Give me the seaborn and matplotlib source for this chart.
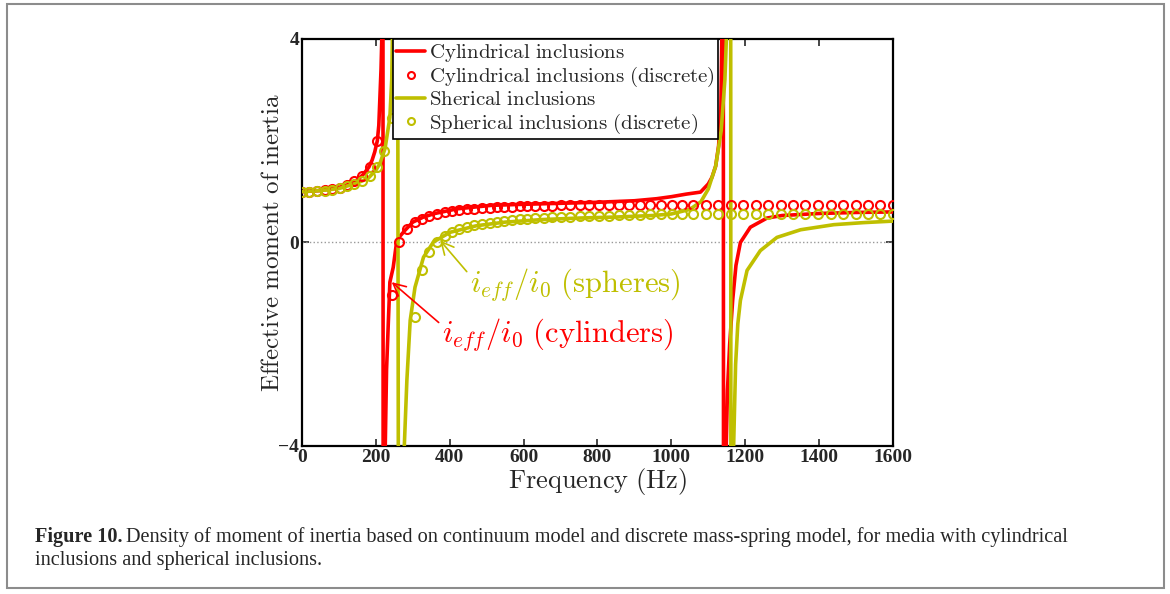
import numpy as np
import pandas as pd
import matplotlib
matplotlib.use("Agg")
import matplotlib.pyplot as plt
from matplotlib.lines import Line2D
from matplotlib.patches import Rectangle
import seaborn as sns

# continuous model, cylindrical inclusions (points straddling the two resonances included)
f_cyl = [0, 50, 100, 130, 148, 165, 181, 190, 197, 204, 208, 211, 214, 216, 217.5,
         221.5, 225, 229, 234, 238, 247, 256, 265, 279, 300, 329, 360, 419, 514, 600, 700,
         800, 900, 960, 1000, 1040, 1079, 1100, 1110, 1120, 1128, 1134, 1137, 1139,
         1143, 1148, 1152, 1158, 1166, 1175, 1187, 1214, 1259, 1300, 1400, 1500, 1600]
i_cyl = [1.0, 1.02, 1.08, 1.15, 1.22, 1.33, 1.48, 1.62, 1.78, 2.0, 2.3, 2.85, 3.4, 3.97, 40,
         -40, -4.2, -2.5, -1.53, -0.78, -0.49, 0.0, 0.12, 0.24, 0.40, 0.50, 0.57, 0.66, 0.73, 0.75, 0.77,
         0.79, 0.82, 0.86, 0.9, 0.95, 0.99, 1.15, 1.28, 1.5, 1.9, 2.6, 4.2, 40,
         -40, -4.2, -2.9, -2.0, -1.14, -0.45, 0.0, 0.3, 0.48, 0.53, 0.57, 0.59, 0.6]

# continuous model, spherical inclusions
f_sph = [0, 50, 100, 150, 179, 200, 211, 225, 238, 243, 246, 252,
         268, 276, 284, 293, 306, 329, 356, 401, 473, 550, 650, 750, 850, 950, 1000,
         1050, 1080, 1100, 1120, 1135, 1145, 1150, 1155, 1159,
         1163, 1168, 1174, 1180, 1187, 1205, 1241, 1286, 1350, 1440, 1520, 1600]
i_sph = [1.0, 1.02, 1.06, 1.17, 1.26, 1.42, 1.55, 1.85, 2.46, 3.2, 4.6, 40,
         -40, -4.2, -2.71, -1.53, -0.88, -0.29, 0.01, 0.20, 0.33, 0.40, 0.45, 0.48, 0.5, 0.53, 0.56,
         0.65, 0.8, 1.05, 1.5, 2.2, 3.2, 4.2, 5.5, 40,
         -40, -4.2, -2.4, -1.6, -1.14, -0.55, -0.16, 0.10, 0.25, 0.35, 0.39, 0.42]

# discrete mass-spring model (cylinders: the point at 223 Hz is off scale)
f_cyl_d = [0, 20, 41, 61, 81, 102, 122, 142, 162, 183, 203, 244, 264, 284, 305, 325, 345, 365,
           386, 406, 426, 447, 467, 487, 508, 528, 548, 568, 589, 609, 631, 654, 678, 702, 727,
           752, 778, 804, 831, 858, 886, 914, 943, 972, 1001, 1030, 1059, 1093, 1127, 1161, 1194,
           1228, 1262, 1296, 1330, 1363, 1397, 1431, 1465, 1499, 1532, 1566, 1600]
i_cyl_d = [1.0, 1.0, 1.01, 1.03, 1.05, 1.08, 1.13, 1.2, 1.3, 1.48, 2.0, -1.04, 0.0, 0.26, 0.40,
           0.47, 0.52, 0.56, 0.59, 0.61, 0.63, 0.65, 0.66, 0.67, 0.68, 0.69, 0.7, 0.7, 0.71, 0.71,
           0.72, 0.72, 0.72, 0.73, 0.73, 0.73, 0.73, 0.73, 0.74, 0.74, 0.74, 0.74, 0.74, 0.74,
           0.74, 0.74, 0.74, 0.74, 0.74, 0.74, 0.74, 0.74, 0.74, 0.74, 0.74, 0.74, 0.74, 0.74,
           0.74, 0.74, 0.74, 0.74, 0.74]
# spheres: the points at 264 and 284 Hz are off scale
f_sph_d = [0, 20, 41, 61, 81, 102, 122, 142, 162, 183, 203, 223, 244, 305, 325, 345, 365,
           386, 406, 426, 447, 467, 487, 508, 528, 548, 568, 589, 609, 631, 654, 678, 702, 727,
           752, 778, 804, 831, 858, 886, 914, 943, 972, 1001, 1030, 1059, 1093, 1127, 1161, 1194,
           1228, 1262, 1296, 1330, 1363, 1397, 1431, 1465, 1499, 1532, 1566, 1600]
i_sph_d = [1.0, 1.0, 1.01, 1.02, 1.04, 1.07, 1.11, 1.15, 1.2, 1.3, 1.48, 1.79, 2.45, -1.47,
           -0.55, -0.19, 0.0, 0.12, 0.2, 0.26, 0.3, 0.34, 0.37, 0.39, 0.41, 0.43, 0.44, 0.46,
           0.47, 0.48, 0.49, 0.5, 0.5, 0.51, 0.52, 0.52, 0.53, 0.53, 0.54, 0.54, 0.54, 0.55,
           0.55, 0.55, 0.55, 0.56, 0.56, 0.56, 0.56, 0.56, 0.56, 0.56, 0.56, 0.56, 0.56, 0.56,
           0.56, 0.56, 0.56, 0.56, 0.56, 0.56]

xticks = [0, 200, 400, 600, 800, 1000, 1200, 1400, 1600]
yticks = [-4, 0, 4]

RED = "#ff0000"
YEL = "#bfbf00"

sns.set_style("ticks")
plt.rcParams["mathtext.fontset"] = "cm"
plt.rcParams["font.family"] = ["Liberation Serif", "DejaVu Serif"]

fig = plt.figure(figsize=(11.7, 5.94), dpi=100)
ax = fig.add_axes([0.2581, 0.2492, 0.5051, 0.6852])

ax.axhline(0, color="#999999", lw=1, ls=":", zorder=1)

sns.lineplot(x=f_cyl, y=i_cyl, color=RED, lw=2.6, sort=False, estimator=None, ax=ax, zorder=3)
sns.lineplot(x=f_sph, y=i_sph, color=YEL, lw=2.6, sort=False, estimator=None, ax=ax, zorder=3)

sns.lineplot(x=f_cyl_d, y=i_cyl_d, ax=ax, linestyle="none", marker="o", markersize=6.5,
             markerfacecolor="none", markeredgecolor=RED, markeredgewidth=1.5,
             estimator=None, sort=False, zorder=4)
sns.lineplot(x=f_sph_d, y=i_sph_d, ax=ax, linestyle="none", marker="o", markersize=6.5,
             markerfacecolor="none", markeredgecolor=YEL, markeredgewidth=1.5,
             estimator=None, sort=False, zorder=4)

ax.set_xlim(0, 1600)
ax.set_ylim(-4, 4)
ax.set_xticks(xticks)
ax.set_yticks(yticks)
ax.tick_params(direction="in", top=True, right=True, length=5, width=1.2, labelsize=14, pad=2)
for lab in ax.get_xticklabels() + ax.get_yticklabels():
    lab.set_fontweight("bold")
for s in ax.spines.values():
    s.set_linewidth(1.6)
    s.set_color("black")

ax.set_xlabel(r"$\mathrm{Frequency\ (Hz)}$", fontsize=19, labelpad=0)
ax.set_ylabel(r"$\mathrm{Effective\ moment\ of\ inertia}$", fontsize=18, labelpad=-4)

ax.annotate(r"$i_{eff}/i_0\ \mathrm{(spheres)}$", xy=(374, 0.04), xytext=(455, -0.83),
            color=YEL, fontsize=22, va="center", ha="left",
            arrowprops=dict(arrowstyle="->", color=YEL, lw=1.2, shrinkA=0, shrinkB=0,
                            relpos=(0, 0.75)))
ax.annotate(r"$i_{eff}/i_0\ \mathrm{(cylinders)}$", xy=(243, -0.78), xytext=(379, -1.81),
            color=RED, fontsize=22, va="center", ha="left",
            arrowprops=dict(arrowstyle="->", color=RED, lw=1.2, shrinkA=0, shrinkB=0,
                            relpos=(0, 0.75)))

handles = [
    Line2D([], [], color=RED, lw=2.6),
    Line2D([], [], color=RED, ls="none", marker="o", markersize=5, markerfacecolor="none", markeredgewidth=1.5),
    Line2D([], [], color=YEL, lw=2.6),
    Line2D([], [], color=YEL, ls="none", marker="o", markersize=5, markerfacecolor="none", markeredgewidth=1.5),
]
labels = [r"$\mathrm{Cylindrical\ inclusions}$",
          r"$\mathrm{Cylindrical\ inclusions\ (discrete)}$",
          r"$\mathrm{Sherical\ inclusions}$",
          r"$\mathrm{Spherical\ inclusions\ (discrete)}$"]
leg = ax.legend(handles, labels, loc="upper left", bbox_to_anchor=(0.154, 1.0), borderaxespad=0,
                fontsize=15, frameon=True, fancybox=False, framealpha=1, edgecolor="black",
                handlelength=1.4, handletextpad=0.2, labelspacing=0.06, borderpad=0.15)
leg.get_frame().set_linewidth(1.2)

fig.canvas.draw()
t1 = fig.text(35 / 1170, 1 - 537 / 594, "Figure 10.", fontsize=14.6, fontweight="bold", va="center", ha="left")
bb = t1.get_window_extent(fig.canvas.get_renderer())
fig.text(bb.x1 / 1170 + 3 / 1170, 1 - 537 / 594,
         "Density of moment of inertia based on continuum model and discrete mass-spring model, for media with cylindrical",
         fontsize=14.6, va="center", ha="left")
fig.text(35 / 1170, 1 - 561 / 594, "inclusions and spherical inclusions.", fontsize=14.6, va="center", ha="left")

fig.patches.append(Rectangle((7 / 1170, 6 / 594), 1157 / 1170, 584 / 594, transform=fig.transFigure,
                             fill=False, edgecolor="#8c8c8c", lw=1.5))

fig.savefig("out.png", dpi=100)
